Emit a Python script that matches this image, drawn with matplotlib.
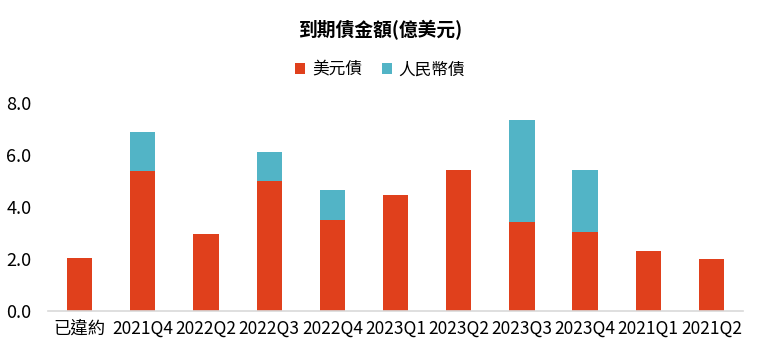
import matplotlib
matplotlib.use('Agg')
import matplotlib.pyplot as plt
import numpy as np

plt.rcParams['font.family'] = ['Noto Sans CJK TC', 'DejaVu Sans']

# 資料
categories = ['已違約', '2021Q4', '2022Q2', '2022Q3', '2022Q4', '2023Q1',
              '2023Q2', '2023Q3', '2023Q4', '2021Q1', '2021Q2']
usd_bonds = [2.05, 5.38, 2.96, 5.0, 3.5, 4.45, 5.42, 3.43, 3.03, 2.3, 2.0]
rmb_bonds = [0.0, 1.5, 0.0, 1.12, 1.15, 0.0, 0.0, 3.9, 2.39, 0.0, 0.0]
yticks = [0.0, 2.0, 4.0, 6.0, 8.0]

red = '#E0401C'
blue = '#52B4C6'

fig = plt.figure(figsize=(7.6, 3.59), dpi=100)
ax = fig.add_axes([48 / 760, 48 / 359, 695 / 760, 208 / 359])

x = np.arange(len(categories))
ax.bar(x, usd_bonds, width=0.4, color=red, label='美元債')
ax.bar(x, rmb_bonds, width=0.4, bottom=usd_bonds, color=blue, label='人民幣債')

ax.set_xlim(-0.5, 10.5)
ax.set_ylim(0, 8)
ax.set_xticks(x)
ax.set_xticklabels(categories, fontsize=12.5)
ax.set_yticks(yticks)
ax.set_yticklabels([f'{v:.1f}' for v in yticks], fontsize=13)
ax.tick_params(axis='both', length=0)
ax.tick_params(axis='y', pad=12)
ax.tick_params(axis='x', pad=6)

for s in ['top', 'right', 'left']:
    ax.spines[s].set_visible(False)
ax.spines['bottom'].set_color('#d9d9d9')
ax.spines['bottom'].set_linewidth(1.2)

fig.text(0.5, 1 - 30 / 359, '到期債金額(億美元)', ha='center', va='center',
         fontsize=13.5, fontweight='bold')
fig.legend(loc='center', bbox_to_anchor=(0.5, 1 - 70 / 359), ncol=2,
           frameon=False, fontsize=12, handlelength=0.6, handleheight=0.6,
           handletextpad=0.4, columnspacing=1.2)

plt.savefig('out.png', dpi=100)
